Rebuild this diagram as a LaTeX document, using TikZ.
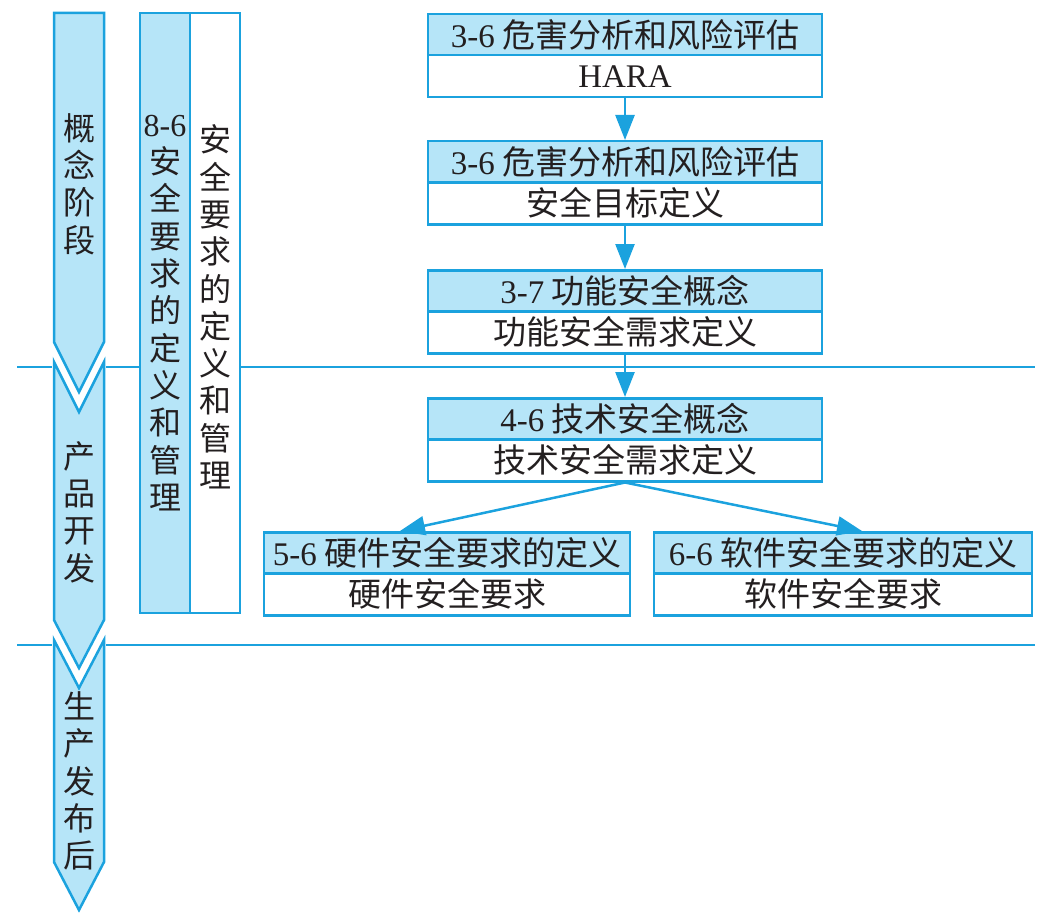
\documentclass[tikz,border=0pt]{standalone}
\usepackage{fontspec}
\setmainfont{Noto Sans CJK SC}
\newfontfamily\lat{Liberation Serif}
\usetikzlibrary{arrows.meta}
\definecolor{bl}{RGB}{27,162,222}
\definecolor{lb}{RGB}{182,229,248}
\definecolor{tx}{RGB}{35,31,32}
\begin{document}
\begin{tikzpicture}[x=1pt,y=-1pt,
 box/.style={draw=bl,line width=2.5pt,inner sep=0pt,anchor=north,text=tx,font=\fontsize{33}{37}\selectfont},
 hdr/.style={box,fill=lb,minimum height=41pt},
 bdy/.style={box,fill=white,minimum height=42pt},
 conn/.style={draw=bl,line width=2.5pt,-{Triangle[length=25pt,width=19pt]}},
 sep/.style={draw=bl,line width=2pt},
 phase/.style={draw=bl,line width=2.5pt,fill=lb,line join=miter},
 vtext/.style={align=center,text=tx,inner sep=0pt,font=\fontsize{32}{37.3}\selectfont}]
\useasboundingbox (0,0) rectangle (1047,923);
% separators
\draw[sep] (17,367) -- (1035,367);
\draw[sep] (17,645) -- (1035,645);
\fill[white] (52,358) rectangle (106,376);
\fill[white] (52,636) rectangle (106,654);
% phase arrows
\draw[phase] (54,13) -- (104,13) -- (104,342) -- (79,392) -- (54,342) -- cycle;
\draw[phase] (54,362) -- (79,412) -- (104,362) -- (104,620) -- (79,668) -- (54,620) -- cycle;
\draw[phase] (54,640) -- (79,688) -- (104,640) -- (104,862) -- (79,910) -- (54,862) -- cycle;
\node[vtext] (p1) at (79,184) {概\\念\\阶\\段};
\node[vtext] (p2) at (79,512) {产\\品\\开\\发};
\node[vtext] (p3) at (79,781) {生\\产\\发\\布\\后};
% 8-6 columns
\draw[draw=bl,line width=2.5pt,fill=lb] (140,13) rectangle (190,613);
\draw[draw=bl,line width=2.5pt,fill=white] (190,13) rectangle (240,613);
\node[vtext] (c1) at (165,313) {{\lat 8-6}\\安\\全\\要\\求\\的\\定\\义\\和\\管\\理};
\node[vtext] (c2) at (215,307) {安\\全\\要\\求\\的\\定\\义\\和\\管\\理};
% boxes
\node[hdr,minimum width=394pt] (h1) at (625,13) {{\lat 3-6} 危害分析和风险评估};
\node[bdy,minimum width=394pt] (b1) at (625,54) {\lat HARA};
\node[hdr,minimum width=394pt] (h2) at (625,140) {{\lat 3-6} 危害分析和风险评估};
\node[bdy,minimum width=394pt] (b2) at (625,181) {安全目标定义};
\node[hdr,minimum width=394pt] (h3) at (625,269) {{\lat 3-7} 功能安全概念};
\node[bdy,minimum width=394pt] (b3) at (625,310) {功能安全需求定义};
\node[hdr,minimum width=394pt] (h4) at (625,397) {{\lat 4-6} 技术安全概念};
\node[bdy,minimum width=394pt] (b4) at (625,438) {技术安全需求定义};
\node[hdr,minimum width=366pt] (h5) at (447,531) {{\lat 5-6} 硬件安全要求的定义};
\node[bdy,minimum width=366pt] (b5) at (447,572) {硬件安全要求};
\node[hdr,minimum width=378pt] (h6) at (843,531) {{\lat 6-6} 软件安全要求的定义};
\node[bdy,minimum width=378pt] (b6) at (843,572) {软件安全要求};
% connectors
\draw[conn] (b1.south) -- (h2.north);
\draw[conn] (b2.south) -- (h3.north);
\draw[conn] (b3.south) -- (h4.north);
\draw[conn] (b4.south) -- ([xshift=-47pt]h5.north);
\draw[conn] (b4.south) -- ([xshift=19pt]h6.north);
\end{tikzpicture}
\end{document}
